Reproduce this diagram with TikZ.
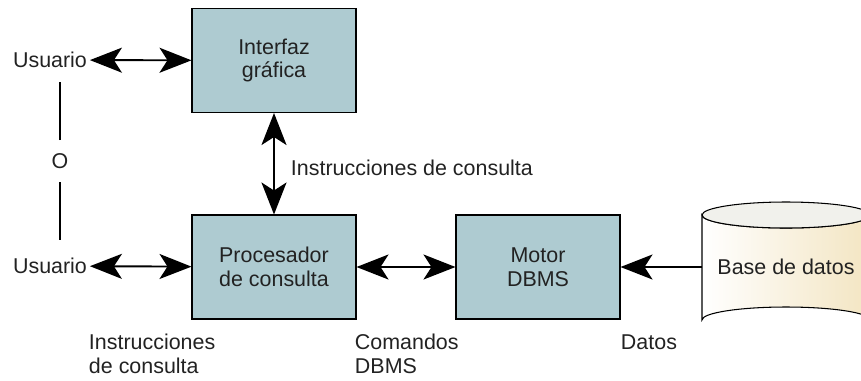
\documentclass[tikz,border=0pt]{standalone}
\usepackage{fontspec}
\setmainfont{Liberation Sans}
\usetikzlibrary{positioning,arrows.meta,calc}
\definecolor{boxfill}{HTML}{AECBD1}
\definecolor{dbcream}{HTML}{F3E5C2}
\definecolor{dbtop}{HTML}{F1F1EC}
\definecolor{txtgray}{HTML}{222222}
\tikzset{
  duplex/.style={{Stealth[length=0.64cm, width=0.5cm, inset=0.16cm]}-{Stealth[length=0.64cm, width=0.5cm, inset=0.16cm]}, line width=1.1pt},
  simplex/.style={-{Stealth[length=0.64cm, width=0.5cm, inset=0.16cm]}, line width=1.1pt},
  procbox/.style={draw, line width=0.6pt, fill=boxfill, minimum width=3.28cm, minimum height=2.08cm, align=center, text=txtgray},
  dbbox/.style={minimum width=3.36cm, minimum height=2.1cm, align=center, text=txtgray},
  plain/.style={text=txtgray, inner sep=1.5pt, align=left},
  orline/.style={line width=1.1pt}
}
\begin{document}
\begin{tikzpicture}[x=0.02cm, y=-0.02cm, every node/.style={font=\fontsize{12.2}{13.6}\selectfont}]
      \useasboundingbox (0,0) rectangle (861,380);
      % cylinder body behind the text
      \shade[left color=white, right color=dbcream, draw, line width=0.6pt]
        (702,215) -- (702,320) arc[start angle=180, end angle=360, x radius=84, y radius=13]
        -- (870,215) arc[start angle=0, end angle=180, x radius=84, y radius=13] -- cycle;
      \draw[fill=dbtop, line width=0.6pt] (786,215) ellipse[x radius=84, y radius=13];
      \node[procbox] (gui) at (274,60.5) {Interfaz\\gráfica};
      \node[procbox] (proc) at (274,267) {Procesador\\de consulta};
      \node[procbox] (motor) at (538,267) {Motor\\DBMS};
      \node[dbbox] (db) at (786,267) {Base de datos};
      \node[plain] (u1) at (50,60) {Usuario};
      \node[plain] (u2) at (50,266) {Usuario};
      \node[plain] (o) at (60,161) {O};
      \node[plain, anchor=west] (lq) at (288,168) {Instrucciones de consulta};
      \node[plain, anchor=west] (lqb) at (86,354) {Instrucciones\\de consulta};
      \node[plain, anchor=west] (lc) at (352,354) {Comandos\\DBMS};
      \node[plain, anchor=west] (ld) at (618,342) {Datos};
      \draw[duplex] (u1) -- (gui);
      \draw[duplex] (u2) -- (proc);
      \draw[duplex] (gui) -- (proc);
      \draw[duplex] (proc) -- (motor);
      \draw[simplex] (db) -- (motor);
      \draw[orline, shorten <=0.42cm, shorten >=0.44cm] (o.center) -- (o |- u1);
      \draw[orline, shorten <=0.42cm, shorten >=0.52cm] (o.center) -- (o |- u2);
    \end{tikzpicture}
\end{document}
